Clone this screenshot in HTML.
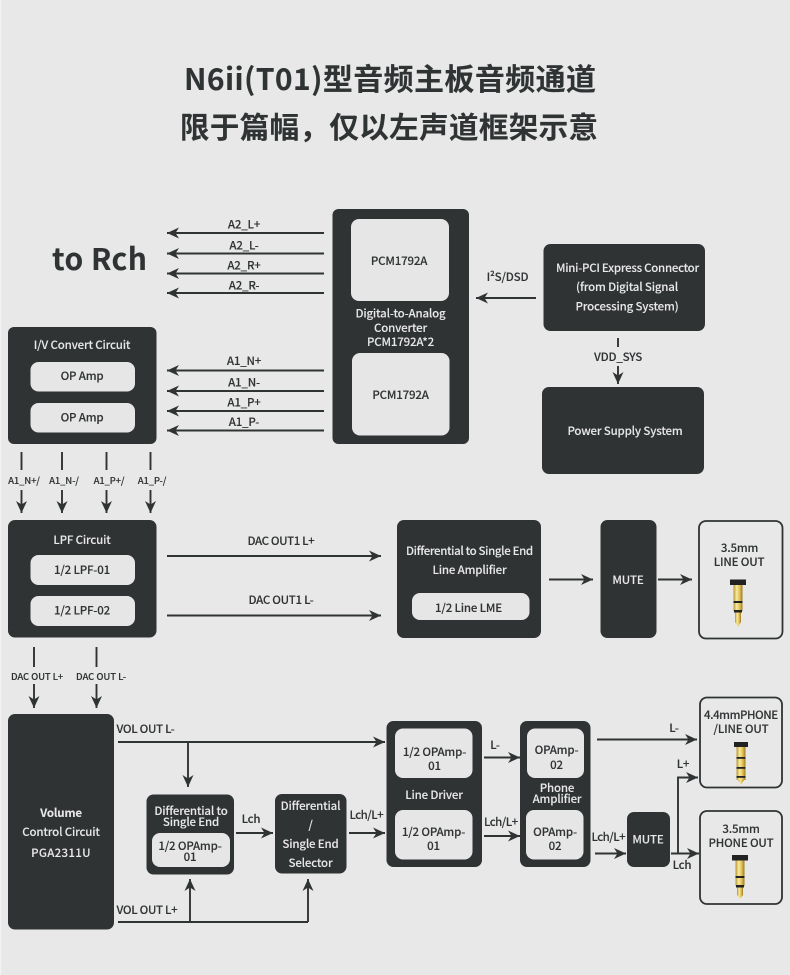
<!DOCTYPE html>
<html><head><meta charset="utf-8"><style>
html,body{margin:0;padding:0;background:#e8e8e8}
svg{display:block}
text{font-family:"Noto Sans CJK SC","Liberation Sans",sans-serif;font-size:11.5px;font-weight:500;letter-spacing:-.18px;fill:#303334;text-anchor:middle;stroke:#303334;stroke-width:.12px}
.w{fill:#e6e6e6}
.d{fill:#303334}
text.l{fill:#e8e8e8;stroke:#e8e8e8;stroke-width:.08px}
.s{stroke:#303334;stroke-width:1.9;fill:none}
text.e{text-anchor:start}
</style></head><body>
<svg width="790" height="975" viewBox="0 0 790 975" xmlns="http://www.w3.org/2000/svg">
<defs>
<linearGradient id="g" x1="0" x2="1" y1="0" y2="0"><stop offset="0" stop-color="#b8922a"/><stop offset=".35" stop-color="#f8eca0"/><stop offset=".7" stop-color="#e0bc50"/><stop offset="1" stop-color="#9a7a20"/></linearGradient>
<marker id="a" markerUnits="userSpaceOnUse" markerWidth="14" markerHeight="14" refX="12" refY="7" orient="auto"><path d="M0 1.500 L12 7 L0 12.500 L3.500 7Z" fill="#303334"/></marker>
</defs>
<rect width="790" height="975" fill="#e8e8e8"/>
<rect width="1.2" height="975" fill="#f2f2f2"/>
<text x="390" y="90" style="font-size:30px;font-weight:700;letter-spacing:0" textLength="412" lengthAdjust="spacing">N6ii(T01)型音频主板音频通道</text>
<text x="389" y="138" style="font-size:29.500px;font-weight:700;letter-spacing:0" textLength="418" lengthAdjust="spacing">限于篇幅，仅以左声道框架示意</text>
<text x="99.500" y="270" style="font-size:30px;font-weight:700;letter-spacing:0" textLength="95" lengthAdjust="spacing">to Rch</text>

<!-- boxes -->
<g class="d">
<rect x="332.500" y="209" width="136.500" height="235" rx="6"/>
<rect x="8" y="327" width="148.500" height="117" rx="6"/>
<rect x="543.500" y="244" width="161.500" height="87" rx="7"/>
<rect x="542" y="387" width="162" height="87" rx="7"/>
<rect x="8" y="520" width="148.500" height="117.500" rx="7"/>
<rect x="397" y="520" width="144" height="118" rx="7"/>
<rect x="600.500" y="520" width="56" height="118" rx="7"/>
<rect x="8" y="714" width="106" height="215.500" rx="7"/>
<rect x="146.500" y="794.500" width="87.500" height="80" rx="7"/>
<rect x="275" y="794" width="71.500" height="79.500" rx="7"/>
<rect x="386.500" y="721" width="95.500" height="146" rx="7"/>
<rect x="520" y="721" width="70.500" height="146" rx="7"/>
<rect x="627" y="812" width="43" height="55" rx="7"/>
</g>
<g class="w">
<rect x="351" y="219" width="98" height="82" rx="8"/>
<rect x="352" y="353" width="97.500" height="82.500" rx="8"/>
<rect x="30.500" y="362" width="104.500" height="29.500" rx="8"/>
<rect x="30.500" y="403" width="104.500" height="29.500" rx="8"/>
<rect x="30.500" y="555" width="104.500" height="30" rx="8"/>
<rect x="30.500" y="596" width="104.500" height="30" rx="8"/>
<rect x="412" y="593" width="117.500" height="27" rx="8"/>
<rect x="152" y="833" width="78" height="34" rx="8"/>
<rect x="395" y="728.500" width="77.500" height="49.500" rx="8"/>
<rect x="395" y="810" width="77.500" height="49.500" rx="8"/>
<rect x="527" y="728.500" width="57" height="49.500" rx="8"/>
<rect x="526" y="810" width="57.500" height="49.500" rx="8"/>
</g>
<g fill="#e8e8e8" stroke="#303334" stroke-width="1.8">
<rect x="699" y="521" width="83.500" height="117.500" rx="7"/>
<rect x="700" y="697.500" width="82" height="90" rx="7"/>
<rect x="700" y="811" width="82" height="93" rx="7"/>
</g>

<!-- connectors -->
<g class="s">
<path d="M324 233H167" marker-end="url(#a)"/>
<path d="M324 253.500H167" marker-end="url(#a)"/>
<path d="M324 273.500H167" marker-end="url(#a)"/>
<path d="M324 293H167" marker-end="url(#a)"/>
<path d="M324 370.500H167" marker-end="url(#a)"/>
<path d="M324 391H167" marker-end="url(#a)"/>
<path d="M324 411H167" marker-end="url(#a)"/>
<path d="M324 430.500H167" marker-end="url(#a)"/>
<path d="M536 298H476" marker-end="url(#a)"/>
<path d="M618 338V347"/>
<path d="M618 366V384" marker-end="url(#a)"/>
<path d="M21.500 452V470M62 452V470M106.500 452V470M150.500 452V470"/>
<path d="M21.500 490V513" marker-end="url(#a)"/>
<path d="M62 490V513" marker-end="url(#a)"/>
<path d="M106.500 490V513" marker-end="url(#a)"/>
<path d="M150.500 490V513" marker-end="url(#a)"/>
<path d="M167 556H381" marker-end="url(#a)"/>
<path d="M167 615.500H381" marker-end="url(#a)"/>
<path d="M34 647V667M96.500 647V667"/>
<path d="M34 684V708" marker-end="url(#a)"/>
<path d="M96.500 684V708" marker-end="url(#a)"/>
<path d="M549 579.500H593" marker-end="url(#a)"/>
<path d="M658 579.500H692" marker-end="url(#a)"/>
<path d="M118 742H385" marker-end="url(#a)"/>
<path d="M188 742V787" marker-end="url(#a)"/>
<path d="M118 922H308"/>
<path d="M190 922V879" marker-end="url(#a)"/>
<path d="M308 922V879" marker-end="url(#a)"/>
<path d="M236 833H273" marker-end="url(#a)"/>
<path d="M349 833H385" marker-end="url(#a)"/>
<path d="M484 757.500H520" marker-end="url(#a)"/>
<path d="M484 836H520" marker-end="url(#a)"/>
<path d="M597 739.500H697" marker-end="url(#a)"/>
<path d="M595 853.500H626" marker-end="url(#a)"/>
<path d="M671 853.500H699" marker-end="url(#a)"/>
<path d="M678 853.500V777.500H698" marker-end="url(#a)"/>
</g>

<!-- line labels -->
<text x="244" y="228.500">A2_L+</text>
<text x="244" y="249.500">A2_L-</text>
<text x="244" y="269.500">A2_R+</text>
<text x="244" y="289.500">A2_R-</text>
<text x="244" y="365">A1_N+</text>
<text x="244" y="386.500">A1_N-</text>
<text x="244" y="406.500">A1_P+</text>
<text x="244" y="426">A1_P-</text>
<text x="507.500" y="281">I²S/DSD</text>
<text x="618" y="361">VDD_SYS</text>
<text x="24" y="484" style="font-size:9.500px">A1_N+/</text>
<text x="64" y="484" style="font-size:9.500px">A1_N-/</text>
<text x="109" y="484" style="font-size:9.500px">A1_P+/</text>
<text x="152" y="484" style="font-size:9.500px">A1_P-/</text>
<text x="37" y="680" style="font-size:9.500px" textLength="52" lengthAdjust="spacing">DAC OUT L+</text>
<text x="101" y="680" style="font-size:9.500px" textLength="50" lengthAdjust="spacing">DAC OUT L-</text>
<text x="281" y="545" textLength="67" lengthAdjust="spacing">DAC OUT1 L+</text>
<text x="281" y="604" textLength="65" lengthAdjust="spacing">DAC OUT1 L-</text>
<text class="e" x="116.500" y="733" textLength="58" lengthAdjust="spacing">VOL OUT L-</text>
<text class="e" x="116.500" y="914" textLength="61" lengthAdjust="spacing">VOL OUT L+</text>
<text x="251" y="823">Lch</text>
<text x="366.500" y="819" textLength="34" lengthAdjust="spacing">Lch/L+</text>
<text x="495" y="749">L-</text>
<text x="501" y="826" textLength="34" lengthAdjust="spacing">Lch/L+</text>
<text x="674" y="732">L-</text>
<text x="683" y="768">L+</text>
<text x="608.500" y="841" textLength="34" lengthAdjust="spacing">Lch/L+</text>
<text x="682" y="869">Lch</text>

<!-- box labels -->
<text x="399" y="265">PCM1792A</text>
<text x="400.500" y="399">PCM1792A</text>
<text class="l" x="400.500" y="317.500">Digital-to-Analog</text>
<text class="l" x="400.500" y="332">Converter</text>
<text class="l" x="400.500" y="346">PCM1792A*2</text>
<text class="l" x="82" y="349">I/V Convert Circuit</text>
<text class="l" x="627.500" y="272" textLength="143" lengthAdjust="spacing">Mini-PCI Express Connector</text>
<text class="l" x="627" y="291">(from Digital Signal</text>
<text class="l" x="627" y="310.500">Processing System)</text>
<text class="l" x="625" y="435">Power Supply System</text>
<text class="l" x="82" y="544">LPF Circuit</text>
<text class="l" x="469.500" y="555" textLength="127" lengthAdjust="spacing">Differential to Single End</text>
<text class="l" x="469.500" y="574">Line Amplifier</text>
<text class="l" x="628" y="584">MUTE</text>
<text class="l" x="61" y="817" style="font-weight:700">Volume</text>
<text class="l" x="61" y="836">Control Circuit</text>
<text class="l" x="61" y="857" style="letter-spacing:.3px">PGA2311U</text>
<text class="l" x="191" y="815">Differential to</text>
<text class="l" x="191" y="826">Single End</text>
<text class="l" x="310.500" y="810">Differential</text>
<text class="l" x="310.500" y="829">/</text>
<text class="l" x="310.500" y="848">Single End</text>
<text class="l" x="310.500" y="867">Selector</text>
<text class="l" x="434" y="799">Line Driver</text>
<text class="l" x="557" y="792">Phone</text>
<text class="l" x="557" y="803">Amplifier</text>
<text class="l" x="648" y="843.500">MUTE</text>
<text x="82" y="380">OP Amp</text>
<text x="82" y="421.500">OP Amp</text>
<text x="82" y="574">1/2 LPF-01</text>
<text x="82" y="614.500">1/2 LPF-02</text>
<text x="468.500" y="612">1/2 Line LME</text>
<text x="190" y="850">1/2 OPAmp-</text>
<text x="190" y="861">01</text>
<text x="434.500" y="756">1/2 OPAmp-</text>
<text x="434.500" y="770">01</text>
<text x="433.500" y="836">1/2 OPAmp-</text>
<text x="433.500" y="850">01</text>
<text x="556.500" y="754">OPAmp-</text>
<text x="556.500" y="769">02</text>
<text x="555" y="836">OPAmp-</text>
<text x="555" y="850">02</text>
<text x="739.500" y="552">3.5mm</text>
<text x="739" y="566">LINE OUT</text>
<text x="741" y="719" textLength="74" lengthAdjust="spacing">4.4mmPHONE</text>
<text x="741" y="733">/LINE OUT</text>
<text x="741" y="833">3.5mm</text>
<text x="741" y="847">PHONE OUT</text>

<!-- jacks -->
<g>
<rect x="733.500" y="584" width="9" height="27" fill="url(#g)"/>
<path d="M735 611h6v11l-3 5l-3-5z" fill="url(#g)"/>
<rect x="730" y="579.500" width="16" height="5.500" fill="#222"/>
<rect x="733.500" y="601" width="9" height="2" fill="#222"/>
<rect x="734" y="610" width="8" height="2.500" fill="#222"/>
</g>
<g>
<rect x="735.500" y="860" width="9" height="26" fill="url(#g)"/>
<path d="M737 886h6v9l-3 4l-3-4z" fill="url(#g)"/>
<rect x="732" y="855" width="16" height="5.500" fill="#222"/>
<rect x="735.500" y="876" width="9" height="2" fill="#222"/>
<rect x="736" y="885" width="8" height="2.500" fill="#222"/>
</g>
<g>
<rect x="736.500" y="746" width="9" height="34" fill="url(#g)"/>
<path d="M738 780h6l-3 5z" fill="url(#g)"/>
<rect x="734" y="742" width="14" height="5" fill="#222"/>
<rect x="736.500" y="757" width="9" height="1.800" fill="#222"/>
<rect x="736.500" y="767" width="9" height="1.800" fill="#222"/>
<rect x="736.500" y="776" width="9" height="1.800" fill="#222"/>
</g>
</svg>
</body></html>
